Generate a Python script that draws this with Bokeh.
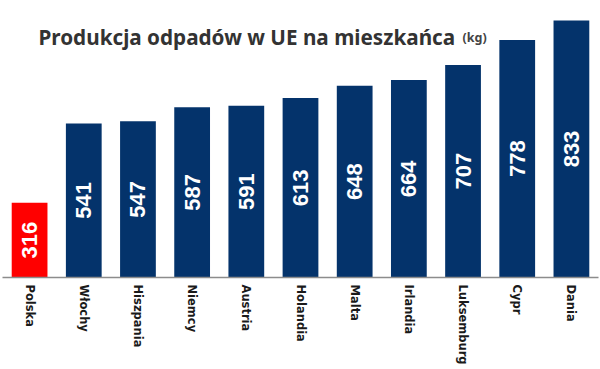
from bokeh.plotting import figure
from bokeh.models import ColumnDataSource, Label, Range1d, FactorRange
from bokeh.embed import file_html
from bokeh.resources import INLINE
from bokeh.core.properties import value

categories = ["Polska", "Włochy", "Hiszpania", "Niemcy", "Austria", "Holandia",
              "Malta", "Irlandia", "Luksemburg", "Cypr", "Dania"]
values = [316, 541, 547, 587, 591, 613, 648, 664, 707, 778, 833]
colors = ["#ff0000"] + ["#04336b"] * 10
title_main = "Produkcja odpadów w UE na mieszkańca"
title_unit = "(kg)"

y_start, y_end = 104, 867

src = ColumnDataSource(dict(
    cat=categories,
    val=values,
    col=colors,
    mid=[(y_start + v) / 2 for v in values],
    txt=[str(v) for v in values],
))

p = figure(x_range=FactorRange(*categories, range_padding=0),
           y_range=Range1d(y_start, y_end),
           frame_width=596, frame_height=269,
           output_backend="svg", toolbar_location=None,
           min_border_left=2, min_border_right=2, min_border_top=8,
           min_border_bottom=0)

p.vbar(x="cat", top="val", bottom=y_start, width=0.66, color="col",
       line_color=None, source=src)
p.text(x="cat", y="mid", text="txt", source=src, angle=1.5708,
       text_align="center", text_baseline="middle", text_color="white",
       text_font=value("Liberation Sans"), text_font_style="bold",
       text_font_size="22px")

p.yaxis.visible = False
p.grid.visible = False
p.outline_line_color = None
p.background_fill_color = "white"
p.border_fill_color = "white"

ax = p.xaxis[0]
ax.axis_line_color = "#8c8c8c"
ax.axis_line_width = 1.5
ax.major_tick_line_color = None
ax.minor_tick_line_color = None
ax.major_tick_out = 0
ax.major_tick_in = 0
ax.major_label_orientation = "vertical"
ax.major_label_standoff = 7
ax.major_label_text_font = "DejaVu Sans"
ax.major_label_text_font_style = "bold"
ax.major_label_text_font_size = "11.5px"
ax.major_label_text_color = "#1a1a1a"

p.add_layout(Label(x=36, y=241, x_units="screen", y_units="screen",
                   text=title_main, text_font="Noto Sans",
                   text_font_style="bold", text_font_size="20.7px",
                   text_color="#333333", text_baseline="alphabetic"))
p.add_layout(Label(x=460, y=240, x_units="screen", y_units="screen",
                   text=title_unit, text_font="Noto Sans",
                   text_font_style="bold", text_font_size="12.5px",
                   text_color="#444444", text_baseline="alphabetic"))

open("out.html", "w").write(file_html(p, INLINE))
